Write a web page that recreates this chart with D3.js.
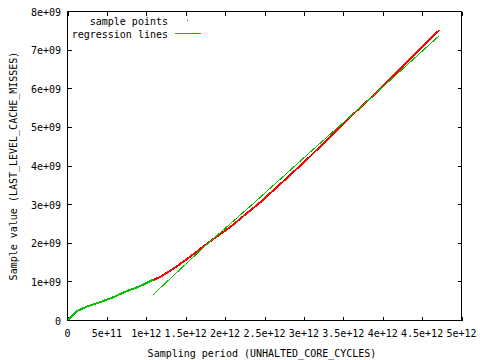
<!DOCTYPE html>
<html><head><meta charset="utf-8">
<script src="https://cdn.jsdelivr.net/npm/d3@7/dist/d3.min.js"></script>
<style>body{margin:0;background:#fff}svg{display:block}text{font-family:"DejaVu Sans Mono","Liberation Mono",monospace;font-size:10px;fill:#000}</style>
</head><body>
<svg id="c" width="480" height="360"></svg>
<script>
// Data (x in cycles, y in misses)
const samplesX = [1.09e12, 1.175e12, 1.344e12, 1.55e12, 1.77e12, 2.065e12, 2.32e12, 2.446e12, 2.8e12, 3.08e12, 3.55e12, 3.82e12, 4.01e12, 4.39e12, 4.72e12];
const samplesY = [1.05e9, 1.125e9, 1.34e9, 1.64e9, 1.99e9, 2.42e9, 2.85e9, 3.06e9, 3.72e9, 4.25e9, 5.20e9, 5.71e9, 6.08e9, 6.86e9, 7.52e9];
const fitCurveX = [0, 0.117e12, 0.244e12, 0.413e12, 0.582e12, 0.752e12, 0.92e12, 1.09e12];
const fitCurveY = [0, 0.24e9, 0.36e9, 0.475e9, 0.605e9, 0.76e9, 0.89e9, 1.057e9];
const fitLineX = [1.09e12, 1.73e12, 2.32e12, 3.08e12, 3.82e12, 4.72e12];
const fitLineY = [0.675e9, 1.90e9, 2.96e9, 4.36e9, 5.71e9, 7.38e9];
const xTicks = [0, 5e11, 1e12, 1.5e12, 2e12, 2.5e12, 3e12, 3.5e12, 4e12, 4.5e12, 5e12];
const xTickLabels = ["0", "5e+11", "1e+12", "1.5e+12", "2e+12", "2.5e+12", "3e+12", "3.5e+12", "4e+12", "4.5e+12", "5e+12"];
const yTicks = [0, 1e9, 2e9, 3e9, 4e9, 5e9, 6e9, 7e9, 8e9];
const yTickLabels = ["0", "1e+09", "2e+09", "3e+09", "4e+09", "5e+09", "6e+09", "7e+09", "8e+09"];
const legendLabels = ["sample points", "regression lines"];
const xTitle = "Sampling period (UNHALTED_CORE_CYCLES)";
const yTitle = "Sample value (LAST_LEVEL_CACHE_MISSES)";

const L = 67.5, R = 461.5, T = 11.5, B = 320.5;
const x = d3.scaleLinear().domain([0, 5e12]).range([L, R]);
const y = d3.scaleLinear().domain([0, 8e9]).range([B, T]);
const svg = d3.select("#c");
const red = "#ff0000", green = "#00c000";

// ticks (inward, mirrored)
const tk = 4;
const g = svg.append("g").attr("stroke", "#000").attr("stroke-width", 1).attr("shape-rendering", "crispEdges");
xTicks.forEach(v => {
  const px = Math.round(x(v)) + 0.5;
  g.append("line").attr("x1", px).attr("x2", px).attr("y1", B).attr("y2", B - tk);
  g.append("line").attr("x1", px).attr("x2", px).attr("y1", T).attr("y2", T + tk);
});
yTicks.forEach(v => {
  const py = Math.round(y(v) - 0.5) + 0.5;
  g.append("line").attr("x1", L).attr("x2", L + tk).attr("y1", py).attr("y2", py);
  g.append("line").attr("x1", R).attr("x2", R - tk).attr("y1", py).attr("y2", py);
});
svg.selectAll(".xl").data(xTicks).enter().append("text")
  .attr("x", d => x(d)).attr("y", 337).attr("text-anchor", "middle")
  .text((d, i) => xTickLabels[i]);
svg.selectAll(".yl").data(yTicks).enter().append("text")
  .attr("x", 61).attr("y", d => y(d) + 4).attr("text-anchor", "end")
  .text((d, i) => yTickLabels[i]);

// data
const line = d3.line().x(d => x(d[0])).y(d => y(d[1]));
svg.append("path").datum(samplesX.map((v, i) => [v, samplesY[i]]))
  .attr("d", line).attr("fill", "none").attr("stroke", red).attr("stroke-width", 2)
  .attr("shape-rendering", "crispEdges");
svg.append("path").datum(fitCurveX.map((v, i) => [v, fitCurveY[i]]))
  .attr("d", line).attr("fill", "none").attr("stroke", green).attr("stroke-width", 2)
  .attr("shape-rendering", "crispEdges");
svg.append("path").datum(fitLineX.map((v, i) => [v, fitLineY[i]]))
  .attr("d", line).attr("fill", "none").attr("stroke", green).attr("stroke-width", 1)
  .attr("shape-rendering", "crispEdges");

// border
svg.append("rect").attr("x", L).attr("y", T).attr("width", R - L).attr("height", B - T)
  .attr("fill", "none").attr("stroke", "#000").attr("stroke-width", 1).attr("shape-rendering", "crispEdges");

// legend
svg.append("text").attr("x", 168).attr("y", 24.5).attr("text-anchor", "end").text(legendLabels[0]);
svg.append("rect").attr("x", 187).attr("y", 20).attr("width", 1).attr("height", 1).attr("fill", red);
svg.append("text").attr("x", 168).attr("y", 37.5).attr("text-anchor", "end").text(legendLabels[1]);
svg.append("line").attr("x1", 175).attr("x2", 201).attr("y1", 33.5).attr("y2", 33.5).attr("stroke", green).attr("stroke-width", 1);

// titles
svg.append("text").attr("x", 262).attr("y", 357).attr("text-anchor", "middle").text(xTitle);
svg.append("text").attr("transform", "translate(17,166) rotate(-90)").attr("text-anchor", "middle").text(yTitle);
</script>
</body></html>
